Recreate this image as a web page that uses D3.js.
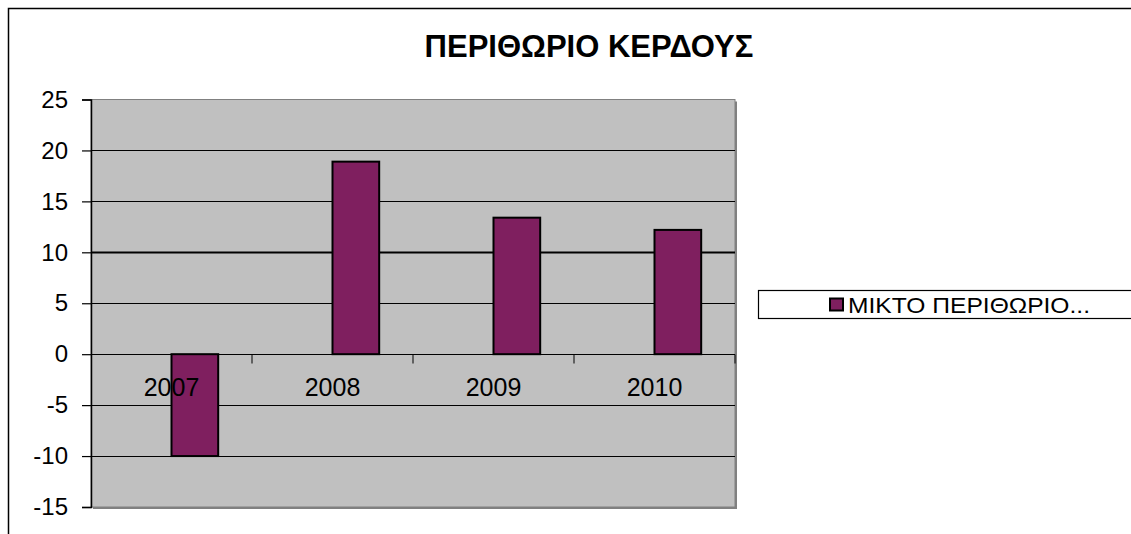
<!DOCTYPE html>
<html>
<head>
<meta charset="utf-8">
<script src="https://cdn.jsdelivr.net/npm/d3@7"></script>
<style>
  body { margin: 0; background: #fff; }
  text { font-family: "Liberation Sans", Arial, sans-serif; }
</style>
</head>
<body>
<div id="chart"></div>
<script>
const years = ["2007", "2008", "2009", "2010"];
const values = [-10, 18.9, 13.4, 12.2];
const yTicks = [-15, -10, -5, 0, 5, 10, 15, 20, 25];
const title = "ΠΕΡΙΘΩΡΙΟ ΚΕΡΔΟΥΣ";
const seriesName = "ΜΙΚΤΟ ΠΕΡΙΘΩΡΙΟ...";

const width = 1131;
const height = 534;
const plot = ({left: 91, right: 735, top: 99.5, bottom: 507});

const x = d3.scaleBand()
      .domain(years)
      .range([plot.left, plot.right]);

const y = d3.scaleLinear()
      .domain([-15, 25])
      .range([plot.bottom, plot.top]);

const svg = d3.select("#chart").append("svg")
      .attr("width", width)
      .attr("height", height)
      .attr("viewBox", [0, 0, width, height]);

// chart frame (left and top edges visible)
svg.append("path")
    .attr("d", `M8.5,${height} V8.5 H${width}`)
    .attr("fill", "none")
    .attr("stroke", "#000")
    .attr("stroke-width", 1.5);

svg.append("text")
    .attr("x", 589)
    .attr("y", 57)
    .attr("text-anchor", "middle")
    .attr("font-size", 31)
    .attr("font-weight", "bold")
    .text(title);

// plot area with grey shadow at right and bottom
svg.append("rect")
    .attr("x", plot.left + 2)
    .attr("y", plot.top + 2)
    .attr("width", plot.right - plot.left)
    .attr("height", plot.bottom - plot.top)
    .attr("fill", "#808080");

svg.append("rect")
    .attr("x", plot.left)
    .attr("y", plot.top)
    .attr("width", plot.right - plot.left)
    .attr("height", plot.bottom - plot.top)
    .attr("fill", "#c0c0c0")
    .attr("stroke", "#808080")
    .attr("stroke-width", 1);

// gridlines
svg.append("g")
    .selectAll("line")
    .data(yTicks.filter(d => d !== -15 && d !== 25 && d !== 0))
    .join("line")
    .attr("x1", plot.left)
    .attr("x2", plot.right)
    .attr("y1", d => Math.round(y(d)) + 0.5)
    .attr("y2", d => Math.round(y(d)) + 0.5)
    .attr("stroke", "#000")
    .attr("stroke-width", d => d === 10 ? 2 : 1);

// y axis (plain hyphen for negatives, as in the original)
const yAxis = g => g
      .attr("transform", `translate(${plot.left},0)`)
      .call(d3.axisLeft(y).tickValues(yTicks).tickFormat(d => String(d))
            .tickSize(9).tickPadding(14))
      .call(g => g.select(".domain").attr("stroke-width", 1.5))
      .call(g => g.selectAll(".tick line").attr("stroke-width", 1.2))
      .call(g => g.selectAll(".tick text")
            .attr("font-size", 24)
            .attr("font-family", "Liberation Sans, Arial, sans-serif")
            .attr("fill", "#000"));

svg.append("g").call(yAxis);

// category axis along zero
const zeroY = Math.round(y(0)) + 0.5;
svg.append("line")
    .attr("x1", plot.left)
    .attr("x2", plot.right)
    .attr("y1", zeroY)
    .attr("y2", zeroY)
    .attr("stroke", "#000");

svg.append("g")
    .selectAll("line")
    .data(years)
    .join("line")
    .attr("x1", d => x(d) + x.bandwidth())
    .attr("x2", d => x(d) + x.bandwidth())
    .attr("y1", zeroY)
    .attr("y2", zeroY + 9)
    .attr("stroke", "#000");

// bars start at the band centre
const barW = x.bandwidth() * 0.29;
svg.append("g")
    .selectAll("rect")
    .data(years.map((d, i) => ({year: d, value: values[i]})))
    .join("rect")
    .attr("x", d => x(d.year) + x.bandwidth() / 2)
    .attr("y", d => y(Math.max(0, d.value)))
    .attr("width", barW)
    .attr("height", d => Math.abs(y(d.value) - y(0)))
    .attr("fill", "#7f1f5f")
    .attr("stroke", "#000")
    .attr("stroke-width", 2);

svg.append("g")
    .selectAll("text")
    .data(years)
    .join("text")
    .attr("x", d => x(d) + x.bandwidth() / 2)
    .attr("y", 396)
    .attr("text-anchor", "middle")
    .attr("font-size", 25)
    .text(d => d);

// legend
const legend = svg.append("g");
legend.append("rect")
    .attr("x", 758.5)
    .attr("y", 290.5)
    .attr("width", 380)
    .attr("height", 28)
    .attr("fill", "#fff")
    .attr("stroke", "#000")
    .attr("stroke-width", 1.2);

legend.append("rect")
    .attr("x", 830)
    .attr("y", 298.5)
    .attr("width", 13)
    .attr("height", 12)
    .attr("fill", "#7f1f5f")
    .attr("stroke", "#000")
    .attr("stroke-width", 2);

legend.append("text")
    .attr("x", 848)
    .attr("y", 313)
    .attr("font-size", 22)
    .attr("textLength", 242)
    .attr("lengthAdjust", "spacingAndGlyphs")
    .text(seriesName);
</script>
</body>
</html>
